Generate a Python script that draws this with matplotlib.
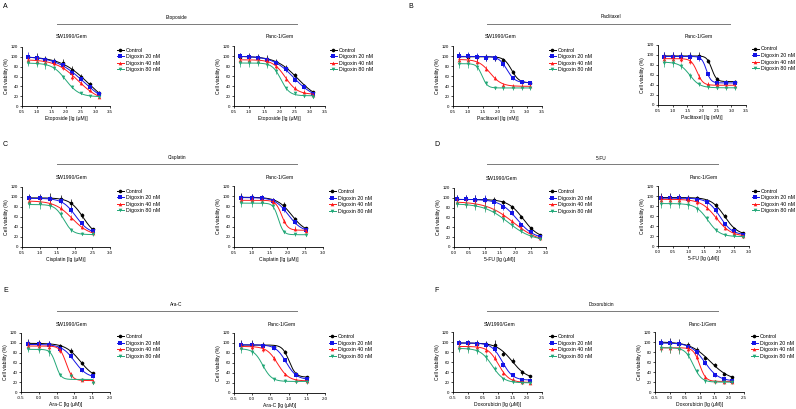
import matplotlib.pyplot as plt
import numpy as np
from matplotlib.lines import Line2D

plt.rcParams['font.family'] = ['Liberation Sans', 'DejaVu Sans']

W, H = 796, 409

series_names = ['Control', 'Digoxin 20 nM', 'Digoxin 40 nM', 'Digoxin 80 nM']
colors = ['#000000', '#1414e6', '#ff1a1a', '#23a878']
markers = ['o', 's', '^', 'v']

# x values (log10 of the dilution series)
x_eto = [0.70, 1.00, 1.30, 1.60, 1.90, 2.20, 2.51, 2.81, 3.11]
x_pac = [0.70, 1.00, 1.30, 1.60, 1.90, 2.20, 2.51, 2.81, 3.11]
x_cis = [0.70, 1.00, 1.30, 1.60, 1.90, 2.20, 2.51]
x_5fu = [0.10, 0.40, 0.70, 1.00, 1.30, 1.60, 1.90, 2.20, 2.51, 2.81]
x_arac = [-0.30, 0.00, 0.30, 0.60, 0.90, 1.20, 1.51]
x_dox = [-0.30, 0.00, 0.30, 0.60, 0.90, 1.20, 1.51, 1.81, 2.11]

# cell viability (%), rows: Control, Digoxin 20, 40, 80 nM
eto_sw = [[99, 98, 96, 91, 87, 74, 60, 44, 27],
          [100, 97, 94, 90, 83, 68, 55, 38, 24],
          [93, 92, 90, 87, 79, 60, 46, 33, 19],
          [87, 86, 84, 78, 59, 39, 26, 20, 19]]
eto_sw_err = [[5, 9, 6, 6, 8, 7, 5, 4, 3],
              [9, 7, 5, 5, 5, 5, 4, 4, 3],
              [6, 7, 5, 5, 5, 8, 4, 4, 3],
              [6, 7, 8, 4, 4, 3, 2, 2, 2]]
eto_panc = [[99, 99, 97, 94, 88, 77, 62, 41, 28],
            [100, 98, 96, 93, 86, 74, 53, 38, 25],
            [92, 92, 91, 90, 80, 55, 36, 28, 22],
            [86, 86, 86, 82, 70, 36, 26, 20, 19]]
eto_panc_err = [[8, 8, 8, 9, 6, 6, 5, 3, 2],
                [6, 6, 6, 5, 6, 5, 5, 3, 2],
                [6, 6, 6, 6, 5, 5, 4, 4, 2],
                [7, 7, 6, 6, 5, 3, 3, 2, 2]]

pac_sw = [[100, 99, 98, 98, 97, 93, 69, 49, 47],
          [101, 100, 99, 97, 96, 84, 56, 49, 46],
          [93, 92, 89, 75, 57, 43, 40, 40, 40],
          [85, 84, 79, 46, 37, 36, 36, 36, 36]]
pac_sw_err = [[8, 8, 7, 7, 6, 4, 4, 3, 3],
              [8, 8, 7, 6, 6, 5, 4, 4, 4],
              [6, 6, 5, 5, 4, 3, 4, 4, 4],
              [8, 8, 7, 4, 3, 3, 3, 4, 4]]
pac_panc = [[98, 98, 98, 98, 99, 89, 52, 47, 47],
            [97, 97, 97, 97, 95, 62, 45, 44, 44],
            [93, 93, 92, 88, 57, 42, 40, 39, 39],
            [85, 84, 78, 58, 42, 36, 35, 34, 34]]
pac_panc_err = [[9, 9, 9, 8, 7, 4, 4, 4, 4],
                [9, 9, 8, 8, 6, 4, 3, 3, 3],
                [7, 7, 6, 6, 5, 5, 4, 4, 3],
                [8, 8, 6, 6, 4, 3, 3, 3, 3]]

cis_sw = [[98, 98, 98, 96, 87, 63, 35],
          [97, 97, 96, 91, 73, 47, 31],
          [92, 90, 87, 78, 58, 40, 28],
          [85, 85, 82, 65, 34, 26, 25]]
cis_sw_err = [[8, 8, 9, 8, 9, 5, 3],
              [7, 7, 6, 6, 6, 4, 3],
              [6, 7, 6, 5, 5, 4, 3],
              [7, 9, 6, 6, 4, 3, 3]]
cis_panc = [[99, 98, 96, 91, 82, 55, 37],
            [97, 97, 96, 91, 74, 49, 34],
            [92, 92, 91, 89, 52, 36, 31],
            [86, 86, 86, 80, 30, 25, 24]]
cis_panc_err = [[8, 7, 6, 6, 6, 5, 3],
                [7, 7, 7, 5, 5, 4, 3],
                [6, 6, 6, 5, 4, 5, 4],
                [7, 7, 6, 5, 3, 3, 3]]

fu_sw = [[97, 97, 96, 96, 96, 91, 81, 62, 38, 25],
         [97, 97, 96, 96, 91, 82, 70, 45, 30, 21],
         [91, 90, 88, 84, 76, 65, 52, 38, 25, 18],
         [87, 86, 83, 79, 72, 56, 44, 32, 22, 17]]
fu_sw_err = [[8, 9, 9, 8, 5, 5, 5, 4, 3, 2],
             [9, 9, 9, 9, 7, 6, 5, 4, 3, 2],
             [8, 8, 8, 8, 7, 6, 5, 4, 3, 2],
             [6, 7, 7, 8, 7, 6, 5, 4, 3, 2]]
fu_panc = [[97, 97, 97, 97, 96, 91, 82, 60, 35, 26],
           [96, 96, 96, 95, 93, 88, 72, 44, 30, 23],
           [93, 93, 93, 92, 88, 77, 58, 36, 27, 20],
           [85, 85, 84, 82, 75, 56, 32, 23, 20, 18]]
fu_panc_err = [[9, 9, 8, 5, 5, 4, 5, 4, 3, 3],
               [8, 8, 8, 5, 5, 5, 5, 4, 3, 3],
               [10, 8, 8, 6, 5, 5, 5, 4, 3, 2],
               [8, 8, 8, 8, 6, 5, 4, 3, 2, 2]]

arac_sw = [[100, 99, 97, 93, 84, 59, 38],
           [97, 97, 96, 88, 74, 44, 33],
           [94, 94, 92, 85, 36, 25, 22],
           [87, 86, 82, 35, 33, 25, 19]]
arac_sw_err = [[8, 7, 6, 5, 5, 4, 3],
               [8, 7, 7, 6, 5, 4, 4],
               [7, 7, 6, 5, 5, 3, 5],
               [6, 7, 8, 3, 4, 3, 3]]
arac_panc = [[97, 97, 96, 93, 82, 39, 32],
             [97, 97, 94, 90, 66, 36, 28],
             [93, 93, 88, 70, 38, 27, 24],
             [88, 83, 54, 28, 25, 23, 22]]
arac_panc_err = [[9, 9, 6, 4, 4, 3, 3],
                 [8, 8, 6, 4, 4, 3, 3],
                 [7, 7, 6, 5, 3, 3, 3],
                 [7, 6, 4, 3, 3, 3, 3]]

dox_sw = [[98, 98, 97, 96, 94, 77, 63, 40, 32],
          [98, 98, 97, 94, 86, 55, 35, 25, 23],
          [91, 91, 90, 85, 69, 38, 26, 20, 18],
          [87, 86, 83, 70, 47, 26, 21, 19, 18]]
dox_sw_err = [[7, 7, 7, 6, 11, 5, 5, 5, 3],
              [7, 7, 6, 6, 5, 5, 4, 3, 2],
              [9, 9, 8, 6, 5, 4, 3, 2, 2],
              [7, 7, 6, 7, 5, 3, 2, 2, 2]]
dox_panc = [[99, 99, 97, 94, 85, 68, 55, 37, 30],
            [98, 98, 96, 91, 80, 59, 35, 27, 23],
            [89, 89, 88, 86, 71, 30, 22, 21, 21],
            [89, 88, 86, 75, 42, 22, 20, 20, 20]]
dox_panc_err = [[7, 10, 9, 6, 6, 4, 4, 3, 3],
                [9, 9, 8, 6, 5, 5, 4, 3, 2],
                [6, 10, 9, 7, 5, 4, 3, 2, 2],
                [8, 10, 10, 6, 4, 3, 3, 3, 3]]


def fit_4pl(x, y):
    # least-squares 4-parameter logistic (grid over IC50/slope, linear in top/bottom)
    x = np.asarray(x, float)
    y = np.asarray(y, float)
    c = np.linspace(x.min() - 0.5, x.max() + 0.5, 241)[:, None, None]
    h = np.linspace(0.4, 6.0, 113)[None, :, None]
    s = 1 / (1 + 10 ** ((x - c) * h))
    u = 1 - s
    a11 = (u * u).sum(-1)
    a12 = (u * s).sum(-1)
    a22 = (s * s).sum(-1)
    r1 = (u * y).sum(-1)
    r2 = (s * y).sum(-1)
    det = a11 * a22 - a12 ** 2
    det = np.where(np.abs(det) < 1e-9, np.nan, det)
    bot = (r1 * a22 - r2 * a12) / det
    top = (a11 * r2 - a12 * r1) / det
    sse = (((bot[..., None] * u + top[..., None] * s) - y) ** 2).sum(-1)
    sse = np.where(np.isnan(sse), np.inf, sse)
    i, j = np.unravel_index(np.argmin(sse), sse.shape)
    return bot[i, j], top[i, j], c[i, 0, 0], h[0, j, 0]


fig = plt.figure(figsize=(W / 100, H / 100), dpi=100)


def fx(px):
    return px / W


def fy(py):
    return 1 - py / H


# panel headers: letter, drug, letter x, title x, line span, (letter y, title y, line y)
headers = [
    ('A', 'Etoposide', 3, 177, (57, 297), (6, 17, 24)),
    ('B', 'Paclitaxel', 408, 611, (487, 730), (6, 17, 24)),
    ('C', 'Cisplatin', 3, 177, (57, 297), (145, 158, 164)),
    ('D', '5-FU', 434, 601, (487, 718), (145, 158, 164)),
    ('E', 'Ara-C', 3, 176, (57, 297), (291, 304, 311)),
    ('F', 'Doxorubicin', 434, 601, (487, 718), (291, 304, 311)),
]
for letter, drug, lx, tx, (l0, l1), (ly, ty, liney) in headers:
    fig.text(fx(lx), fy(ly), letter, fontsize=5, ha='left', va='center')
    fig.text(fx(tx), fy(ty), drug, fontsize=3.4, ha='center', va='center')
    fig.add_artist(Line2D([fx(l0), fx(l1)], [fy(liney), fy(liney)],
                          transform=fig.transFigure, color='#7a7a7a', lw=0.7))

# x, data, err, subtitle (text, x px, y px), xlabel, xlim, box (l, r, t, b) px, legend (x, y) px
panels = [
    (x_eto, eto_sw, eto_sw_err, ('SW1990/Gem', 72, 36), 'Etoposide [lg (μM)]', (0.5, 3.5), (22, 110, 47, 106), (117, 47.5)),
    (x_eto, eto_panc, eto_panc_err, ('Panc-1/Gem', 280, 37), 'Etoposide [lg (μM)]', (0.5, 3.5), (234, 325, 46, 106), (330, 47.5)),
    (x_pac, pac_sw, pac_sw_err, ('SW1990/Gem', 501, 37), 'Paclitaxel [lg (nM)]', (0.5, 3.5), (453, 542, 46, 106), (549, 47.5)),
    (x_pac, pac_panc, pac_panc_err, ('Panc-1/Gem', 699, 37), 'Paclitaxel [lg (nM)]', (0.5, 3.5), (658, 746, 45, 105), (752, 46.5)),
    (x_cis, cis_sw, cis_sw_err, ('SW1990/Gem', 72, 177), 'Cisplatin [lg (μM)]', (0.5, 3.0), (22, 110, 187, 247), (117, 188.5)),
    (x_cis, cis_panc, cis_panc_err, ('Panc-1/Gem', 280, 177), 'Cisplatin [lg (μM)]', (0.5, 3.0), (234, 323, 186, 247), (329, 189)),
    (x_5fu, fu_sw, fu_sw_err, ('SW1990/Gem', 502, 178), '5-FU [lg (μM)]', (0.0, 3.0), (454, 546, 188, 247), (549, 189)),
    (x_5fu, fu_panc, fu_panc_err, ('Panc-1/Gem', 704, 177), '5-FU [lg (μM)]', (0.0, 3.0), (658, 749, 186, 246), (752, 188.5)),
    (x_arac, arac_sw, arac_sw_err, ('SW1990/Gem', 72, 324), 'Ara-C [lg (μM)]', (-0.5, 2.0), (21, 110, 333, 392), (117, 334)),
    (x_arac, arac_panc, arac_panc_err, ('Panc-1/Gem', 282, 324), 'Ara-C [lg (μM)]', (-0.5, 2.0), (234, 325, 333, 393), (329, 334)),
    (x_dox, dox_sw, dox_sw_err, ('SW1990/Gem', 500, 324), 'Doxorubicin [lg (μM)]', (-0.5, 2.5), (453, 542, 332, 392), (549, 334)),
    (x_dox, dox_panc, dox_panc_err, ('Panc-1/Gem', 703, 324), 'Doxorubicin [lg (μM)]', (-0.5, 2.5), (655, 744, 332, 392), (751, 334)),
]

for xs, data, errs, (sub, sx, sy), xlab, xlim, (l, r, t, b), (lgx, lgy) in panels:
    ax = fig.add_axes([fx(l), fy(b), (r - l) / W, (b - t) / H])
    handles = []
    for k in range(4):
        ax.errorbar(xs, data[k], yerr=errs[k], fmt=markers[k], color=colors[k],
                    ms=2.6, mew=0, elinewidth=0.5, capsize=1.2, capthick=0.5,
                    clip_on=False, zorder=3 + k)
        bot, top, c, h = fit_4pl(xs, data[k])
        xc = np.linspace(xs[0], xs[-1], 200)
        ax.plot(xc, bot + (top - bot) / (1 + 10 ** ((xc - c) * h)),
                color=colors[k], lw=0.7, zorder=3 + k)
        handles.append(Line2D([], [], color=colors[k], marker=markers[k],
                              ms=2.6, mew=0, lw=0.7))
    ax.set_xlim(*xlim)
    ax.set_ylim(0, 120)
    xt = np.arange(xlim[0], xlim[1] + 0.01, 0.5)
    ax.set_xticks(xt)
    ax.set_xticklabels([f'{v:.1f}' for v in xt])
    ax.set_yticks(range(0, 121, 20))
    for side in ('top', 'right'):
        ax.spines[side].set_visible(False)
    for side in ('left', 'bottom'):
        ax.spines[side].set_linewidth(0.6)
    ax.tick_params(direction='out', length=1.6, width=0.5, pad=1, labelsize=3.2)
    ax.set_xlabel(xlab, fontsize=3.6, labelpad=1.5)
    ax.set_ylabel('Cell viability (%)', fontsize=3.6, labelpad=1.5)
    fig.text(fx(sx), fy(sy), sub, fontsize=3.6, ha='center', va='center')
    ax.legend(handles, series_names, loc='upper left', bbox_to_anchor=(fx(lgx), fy(lgy)),
              bbox_transform=fig.transFigure, frameon=False, fontsize=3.8,
              handlelength=1.3, handletextpad=0.4, labelspacing=0.3,
              borderpad=0, borderaxespad=0)

fig.savefig('out.png', dpi=100)
